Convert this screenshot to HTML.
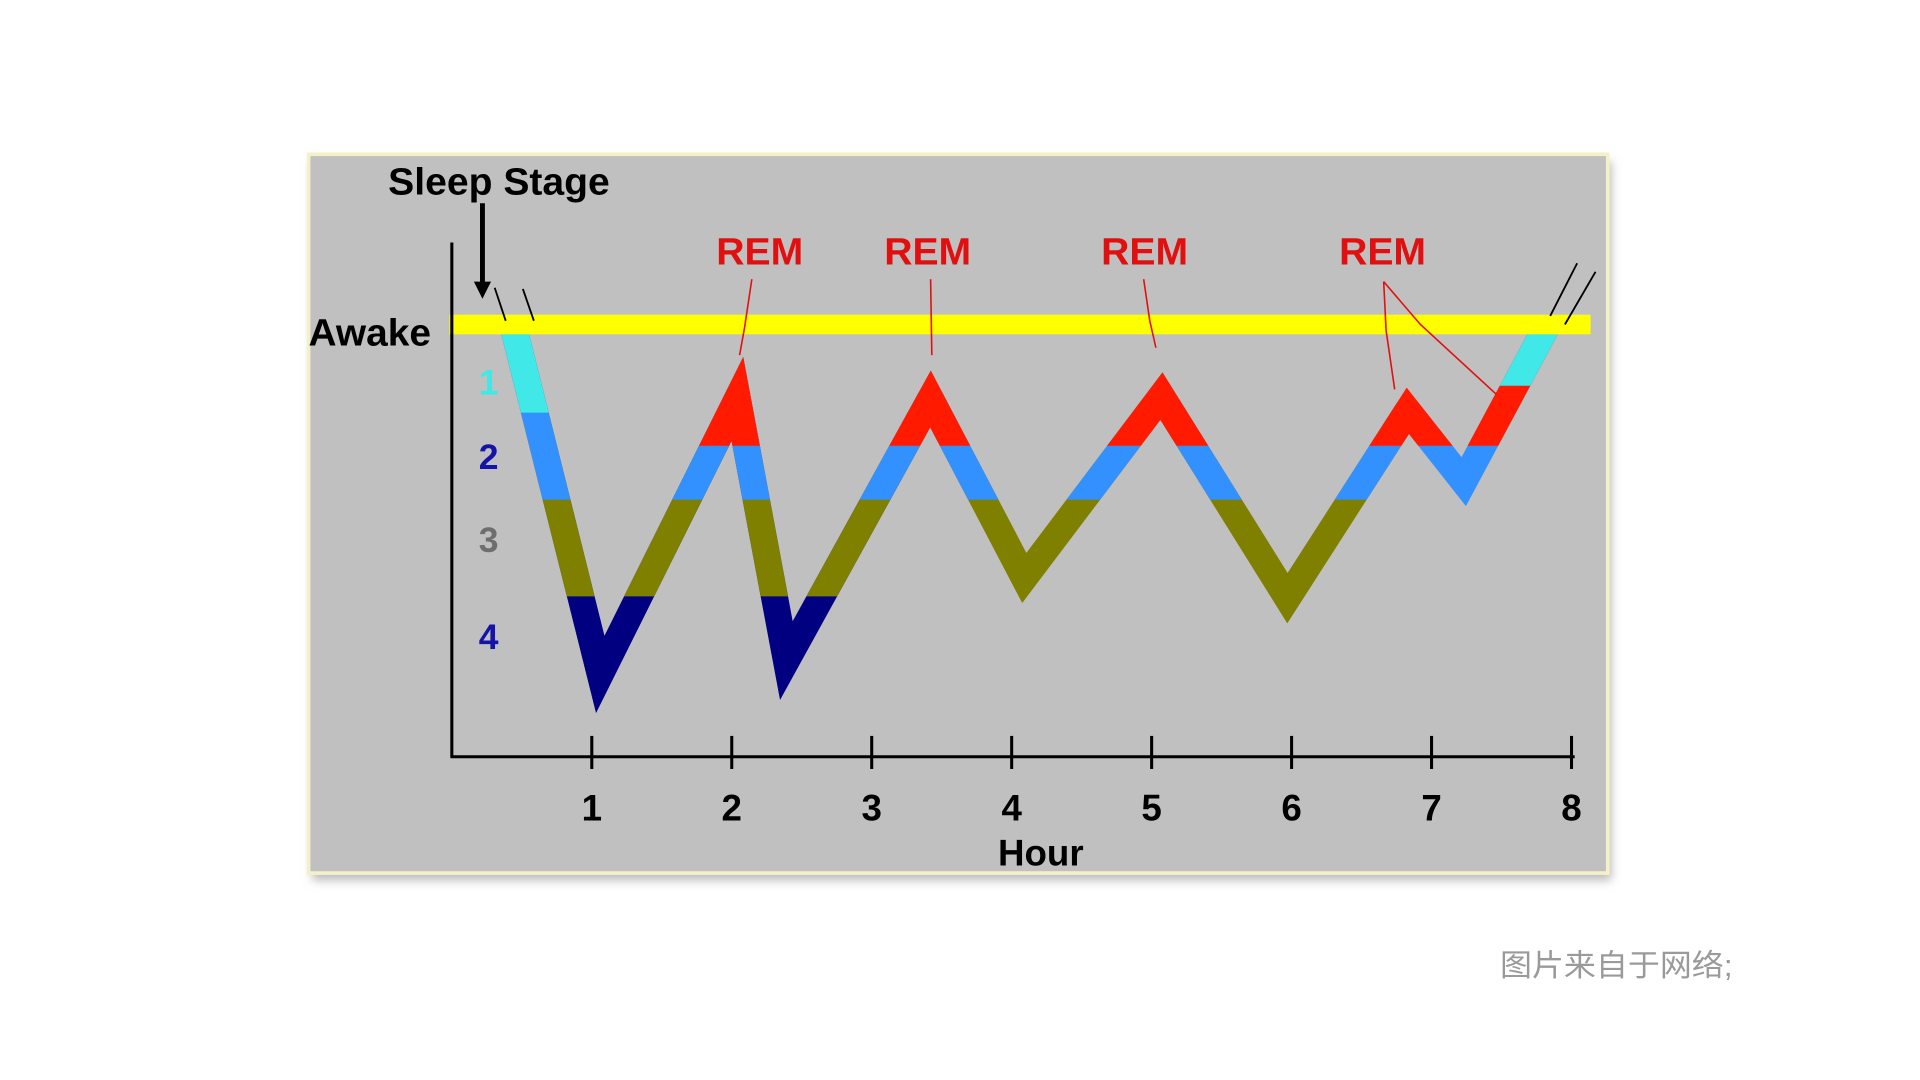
<!DOCTYPE html>
<html><head><meta charset="utf-8"><style>
html,body{margin:0;padding:0;background:#fff;width:1920px;height:1080px;overflow:hidden}
svg{display:block}
text{font-family:"Liberation Sans",Arial,sans-serif;font-weight:bold}
</style></head><body>
<svg id="chart" width="1920" height="1080" viewBox="0 0 1568 882" xmlns="http://www.w3.org/2000/svg">
<defs>
<filter id="sh" x="-5%" y="-5%" width="110%" height="112%"><feGaussianBlur stdDeviation="4"/></filter>
<clipPath id="c4"><rect x="0" y="0" width="1568" height="487"/></clipPath>
<clipPath id="c3"><rect x="0" y="0" width="1568" height="408"/></clipPath>
<clipPath id="cr"><rect x="0" y="0" width="1568" height="364"/></clipPath>
<clipPath id="c1a"><rect x="0" y="0" width="1568" height="337"/></clipPath>
<clipPath id="c1b"><rect x="0" y="0" width="1568" height="315"/></clipPath>
<clipPath id="cbox"><rect x="369" y="262" width="940" height="356"/></clipPath>
</defs>
<rect x="255" y="132" width="1061" height="587" fill="#bbb" filter="url(#sh)"/>
<rect x="252" y="126" width="1061" height="587" fill="#c0c0c0" stroke="#f4f0c8" stroke-width="3"/>
<g id="band" clip-path="url(#cbox)"></g>
<rect x="367" y="257" width="932" height="16" fill="#ffff00"/>
<g id="axes" stroke="#000" stroke-width="2.5" fill="none">
<line x1="369" y1="198" x2="369" y2="619"/>
<line x1="368" y1="618" x2="1286" y2="618"/>
</g>
<g id="ticks"></g>
<g stroke="#000" stroke-width="1.5" fill="none">
<line x1="404" y1="235" x2="413" y2="262"/><line x1="427" y1="236" x2="436" y2="262"/>
<line x1="1266" y1="258" x2="1288" y2="215"/><line x1="1278" y1="265" x2="1303" y2="222"/>
</g>
<g><line x1="394" y1="166" x2="394" y2="232" stroke="#000" stroke-width="4"/><polygon points="387,230 401,230 394,244" fill="#000"/></g>
<g stroke="#e01010" stroke-width="1.3" fill="none">
<polyline points="614,228 608,268 604,290"/>
<line x1="760" y1="228" x2="761" y2="290"/>
<polyline points="934,228 939,262 944,284"/>
<polyline points="1130,230 1132,270 1139,318"/>
<polyline points="1130,230 1160,265 1222,322"/>
</g>
<text x="317" y="159" font-size="31" fill="#000" textLength="181" lengthAdjust="spacingAndGlyphs">Sleep Stage</text>
<text x="252" y="282" font-size="31" fill="#000" textLength="100" lengthAdjust="spacingAndGlyphs">Awake</text>
<text x="399" y="322" font-size="29" fill="#40e8e8" text-anchor="middle">1</text>
<text x="399" y="383" font-size="29" fill="#1414a8" text-anchor="middle">2</text>
<text x="399" y="451" font-size="29" fill="#6e6e6e" text-anchor="middle">3</text>
<text x="399" y="530" font-size="29" fill="#1414a8" text-anchor="middle">4</text>
<g id="rems"></g>
<text x="850" y="707" font-size="30" fill="#000" text-anchor="middle">Hour</text>
<text x="1225" y="797" font-size="25" fill="#9a9a9a" textLength="190" lengthAdjust="spacingAndGlyphs" style="font-family:'Liberation Sans','Noto Sans CJK SC',sans-serif;font-weight:normal">图片来自于网络;</text>
</svg>
<script>
const hours = [0.38, 1.06, 2.04, 2.39, 3.42, 4.09, 5.07, 5.97, 6.83, 7.23, 7.95];
const depths = [-0.3, 3.85, 0.85, 3.7, 0.85, 2.8, 0.82, 3.02, 0.98, 1.75, -0.3];
const tickLabels = ["1","2","3","4","5","6","7","8"];
const remLabels = ["REM","REM","REM","REM"];
const remHours = [2.2, 3.4, 4.95, 6.65];

const NS = "http://www.w3.org/2000/svg";
const xS = h => 369 + 114.3 * h;
const yS = d => 262 + 75 * d;
const pts = hours.map((h, i) => [xS(h), yS(depths[i])]);
const toStr = a => a.map(p => p[0].toFixed(1) + "," + p[1].toFixed(1)).join(" ");
const band = document.getElementById("band");
function layer(points, color, clip, name) {
  const g = document.createElementNS(NS, "g");
  if (clip) g.setAttribute("clip-path", "url(#" + clip + ")");
  const pl = document.createElementNS(NS, "polyline");
  pl.setAttribute("points", toStr(points));
  pl.setAttribute("fill", "none");
  pl.setAttribute("stroke", color);
  pl.setAttribute("stroke-width", "22");
  pl.setAttribute("stroke-linejoin", "miter");
  pl.setAttribute("stroke-miterlimit", "20");
  
  
  g.appendChild(pl);
  band.appendChild(g);
}
layer(pts.slice(0, 5), "#000080", null, "stage-4-band");
layer(pts.slice(0, 5), "#808000", "c4", "stage-3-band-early");
layer(pts.slice(4, 9), "#808000", null, "stage-3-band-late");
layer(pts.slice(0, 9), "#3390ff", "c3", "stage-2-band");
layer(pts.slice(8), "#3390ff", null, "stage-2-band-late");
layer(pts.slice(1), "#ff1a00", "cr", "rem-band");
layer(pts.slice(0, 2), "#40e8e8", "c1a", "stage-1-descent");
layer(pts.slice(-2), "#40e8e8", "c1b", "stage-1-ascent");

const ticks = document.getElementById("ticks");
tickLabels.forEach((t, i) => {
  const x = xS(i + 1);
  const ln = document.createElementNS(NS, "line");
  ln.setAttribute("x1", x); ln.setAttribute("x2", x);
  ln.setAttribute("y1", 601); ln.setAttribute("y2", 628);
  ln.setAttribute("stroke", "#000"); ln.setAttribute("stroke-width", "2.5");
  
  
  ticks.appendChild(ln);
  const tx = document.createElementNS(NS, "text");
  tx.setAttribute("x", x); tx.setAttribute("y", 670);
  tx.setAttribute("font-size", "30"); tx.setAttribute("text-anchor", "middle");
  tx.textContent = t;
  
  
  ticks.appendChild(tx);
});
const rems = document.getElementById("rems");
remLabels.forEach((r, i) => {
  const tx = document.createElementNS(NS, "text");
  tx.setAttribute("x", xS(remHours[i])); tx.setAttribute("y", 216);
  tx.setAttribute("font-size", "31"); tx.setAttribute("text-anchor", "middle");
  tx.setAttribute("fill", "#e01010");
  tx.setAttribute("textLength", "71");
  tx.setAttribute("lengthAdjust", "spacingAndGlyphs");
  tx.textContent = r;
  
  
  rems.appendChild(tx);
});
</script>
</body></html>
